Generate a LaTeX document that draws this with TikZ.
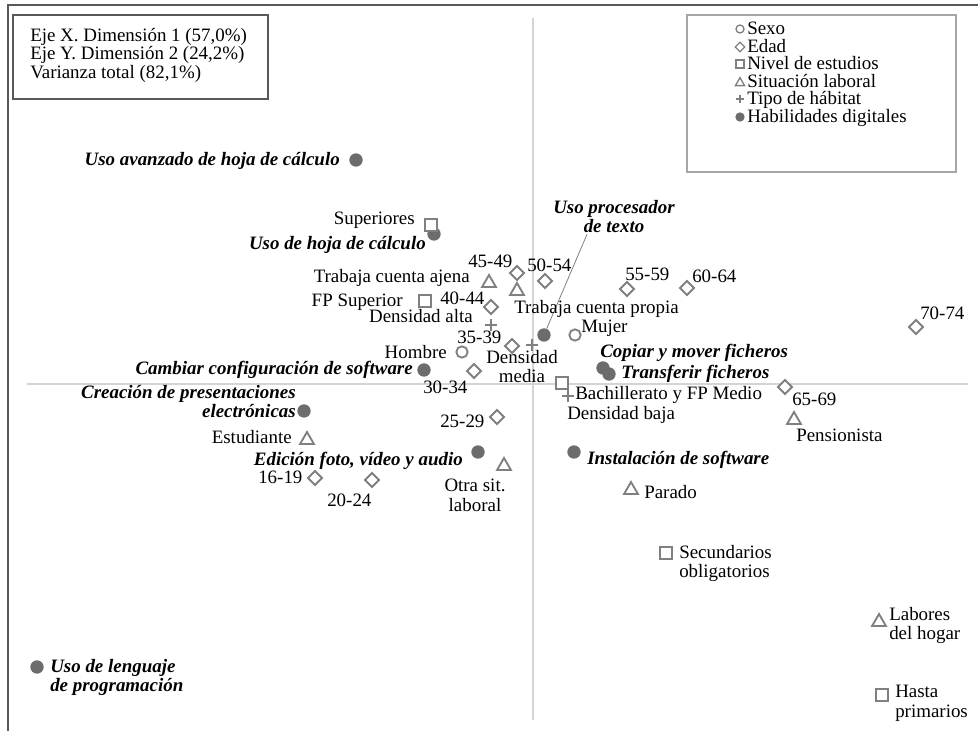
\documentclass[tikz,border=0pt]{standalone}
\usepackage{fontspec}
\setmainfont{Liberation Serif}
\usetikzlibrary{calc,positioning,shapes.geometric}
\definecolor{acmgray}{RGB}{128,128,128}
\definecolor{acmdot}{RGB}{108,108,108}
\definecolor{acmaxis}{RGB}{212,212,212}
\definecolor{acmframe}{RGB}{88,88,88}

\begin{document}
\begin{tikzpicture}[x=0.75pt, y=-0.75pt,
      lbl/.style={inner sep=0pt, font=\fontsize{14.2}{14.6}\selectfont},
      skill/.style={lbl, font=\fontsize{14.2}{14.6}\selectfont\bfseries\itshape},
      digdot/.style={circle, fill=acmdot, inner sep=0pt, minimum size=10pt},
      sexo/.style={circle, draw=acmgray, line width=1.4pt, fill=white, inner sep=0pt, minimum size=8.5pt},
      edad/.style={diamond, draw=acmgray, line width=1.4pt, fill=white, inner sep=0pt, minimum size=11pt},
      estud/.style={rectangle, draw=acmgray, line width=1.4pt, fill=white, inner sep=0pt, minimum size=8.5pt},
      sitlab/.style={regular polygon, regular polygon sides=3, draw=acmgray, line width=1.4pt, fill=white, inner sep=0pt, minimum size=12pt},
      habitat/.style={inner sep=0pt, minimum size=9pt, path picture={\draw[acmgray, line width=1.3pt] (path picture bounding box.north) -- (path picture bounding box.south) (path picture bounding box.west) -- (path picture bounding box.east);}}
    ]
      \useasboundingbox (0,0) rectangle (978,731);
      % frame and axes
      \draw[acmframe, line width=1.6pt] (8,731) -- (8,5) -- (978,5);
      \draw[acmaxis, line width=0.9pt] (27,384) -- (968,384);
      \draw[acmaxis, line width=0.9pt] (533,18) -- (533,720);

      % info box
      \node[draw=acmframe, line width=1.1pt, minimum width=191pt, minimum height=63pt, inner sep=0pt] (info) at (140.5,57) {};
      \node[lbl, anchor=north west, align=left, font=\fontsize{14.2}{13.9}\selectfont] (infotxt) at (30,28) {Eje X. Dimensión 1 (57,0\%)\\Eje Y. Dimensión 2 (24,2\%)\\Varianza total (82,1\%)};

      % legend
      \node[draw=acmgray!70, line width=1.1pt, minimum width=201.75pt, minimum height=117.75pt, inner sep=0pt] (leg) at (821.5,93.5) {};
      \node[sexo, minimum size=6pt, line width=1pt] (legsexo) at (740,29) {};
      \node[edad, minimum size=7.5pt, line width=1pt] (legedad) at (740,47) {};
      \node[estud, minimum size=6pt, line width=1pt] (legestud) at (740,64) {};
      \node[sitlab, minimum size=8pt, line width=1pt] (legsit) at (740,83) {};
      \node[habitat, minimum size=6.5pt] (leghab) at (740,99) {};
      \node[digdot, minimum size=7pt] (legdig) at (740,117) {};
      \node[lbl, anchor=base west] at (747,35) {Sexo};
      \node[lbl, anchor=base west] at (747,53) {Edad};
      \node[lbl, anchor=base west] at (747,70) {Nivel de estudios};
      \node[lbl, anchor=base west] at (747,88) {Situación laboral};
      \node[lbl, anchor=base west] at (747,105) {Tipo de hábitat};
      \node[lbl, anchor=base west] at (747,123) {Habilidades digitales};

      % habilidades digitales
      \node[digdot] (avzdot) at (356,160) {};
      \node[skill, anchor=base east] (avz) at (340,166) {Uso avanzado de hoja de cálculo};
      \node[digdot] (hojadot) at (434,234) {};
      \node[skill, anchor=base east] (hoja) at (426,249) {Uso de hoja de cálculo};
      \node[digdot] (procdot) at (544,335) {};
      \node[skill, anchor=north, align=center] (proc) at (614,200) {Uso procesador\\de texto};
      \draw[acmgray, line width=0.6pt] (procdot) -- ($(proc.south)+(-27,1)$);
      \node[digdot] (confdot) at (424,370) {};
      \node[skill, anchor=base east] (conf) at (413,374) {Cambiar configuración de software};
      \node[digdot] (presdot) at (304,411) {};
      \node[skill, anchor=north east, align=right] (pres) at (296,385) {Creación de presentaciones\\electrónicas};
      \node[digdot] (edicdot) at (478,452) {};
      \node[skill, anchor=base east] (edic) at (463,465) {Edición foto, vídeo y audio};
      \node[digdot] (copdot) at (603,368) {};
      \node[digdot] (trfdot) at (609,374) {};
      \node[skill, anchor=base west] (cop) at (600,357) {Copiar y mover ficheros};
      \node[skill, anchor=base west] (trf) at (621,378) {Transferir ficheros};
      \node[digdot] (instdot) at (574,452) {};
      \node[skill, anchor=base west] (inst) at (587,464) {Instalación de software};
      \node[digdot] (progdot) at (37,667) {};
      \node[skill, anchor=north west, align=left] (prog) at (50,659) {Uso de lenguaje\\de programación};

      % sexo
      \node[sexo] (homdot) at (462,352) {};
      \node[lbl, anchor=base east] (hom) at (447,358) {Hombre};
      \node[sexo] (mujdot) at (575,335) {};
      \node[lbl, anchor=base west] (muj) at (581,332) {Mujer};

      % edad
      \node[edad] (e1619dot) at (315,478) {};
      \node[lbl, anchor=base west] (e1619) at (258,483) {16-19};
      \node[edad] (e2024dot) at (372,480) {};
      \node[lbl, anchor=base west] (e2024) at (327,506) {20-24};
      \node[edad] (e2529dot) at (497,417) {};
      \node[lbl, anchor=base west] (e2529) at (440,427) {25-29};
      \node[edad] (e3034dot) at (474,371) {};
      \node[lbl, anchor=base west] (e3034) at (423,393) {30-34};
      \node[edad] (e3539dot) at (512,346) {};
      \node[lbl, anchor=base west] (e3539) at (457,343) {35-39};
      \node[edad] (e4044dot) at (491,307) {};
      \node[lbl, anchor=base west] (e4044) at (440,304) {40-44};
      \node[edad] (e4549dot) at (517,273) {};
      \node[lbl, anchor=base west] (e4549) at (468,267) {45-49};
      \node[edad] (e5054dot) at (545,281) {};
      \node[lbl, anchor=base west] (e5054) at (527,271) {50-54};
      \node[edad] (e5559dot) at (627,289) {};
      \node[lbl, anchor=base west] (e5559) at (625,280) {55-59};
      \node[edad] (e6064dot) at (687,288) {};
      \node[lbl, anchor=base west] (e6064) at (692,282) {60-64};
      \node[edad] (e6569dot) at (785,387) {};
      \node[lbl, anchor=base west] (e6569) at (792,405) {65-69};
      \node[edad] (e7074dot) at (916,327) {};
      \node[lbl, anchor=base west] (e7074) at (920,319) {70-74};

      % nivel de estudios
      \node[estud] (supdot) at (431,225) {};
      \node[lbl, anchor=base east] (sup) at (415,224) {Superiores};
      \node[estud] (fpsdot) at (425,301) {};
      \node[lbl, anchor=base east] (fps) at (403,306) {FP Superior};
      \node[estud] (bachdot) at (562,383) {};
      \node[lbl, anchor=base west] (bach) at (575,399) {Bachillerato y FP Medio};
      \node[estud] (secdot) at (666,553) {};
      \node[lbl, anchor=north west, align=left] (sec) at (679,545) {Secundarios\\obligatorios};
      \node[estud] (primdot) at (882,695) {};
      \node[lbl, anchor=north west, align=left] (prim) at (895,685) {Hasta\\primarios};

      % situacion laboral
      \node[sitlab] (ajenadot) at (489,283) {};
      \node[lbl, anchor=base east] (ajena) at (470,282) {Trabaja cuenta ajena};
      \node[sitlab] (propiadot) at (517,291) {};
      \node[lbl, anchor=base west] (propia) at (514,313) {Trabaja cuenta propia};
      \node[sitlab] (estudot) at (307,440) {};
      \node[lbl, anchor=base east] (estu) at (292,443) {Estudiante};
      \node[sitlab] (otradot) at (504,466) {};
      \node[lbl, anchor=north, align=center] (otra) at (475,479) {Otra sit.\\laboral};
      \node[sitlab] (pensdot) at (794,420) {};
      \node[lbl, anchor=base west] (pens) at (796,441) {Pensionista};
      \node[sitlab] (pardot) at (631,490) {};
      \node[lbl, anchor=base west] (par) at (644,498) {Parado};
      \node[sitlab] (hogdot) at (879,622) {};
      \node[lbl, anchor=north west, align=left] (hog) at (889,607) {Labores\\del hogar};

      % tipo de habitat
      \node[habitat] (altadot) at (491,325) {};
      \node[lbl, anchor=base east] (alta) at (473,322) {Densidad alta};
      \node[habitat] (mediadot) at (532,345) {};
      \node[lbl, anchor=north, align=center] (media) at (522,350) {Densidad\\media};
      \node[habitat] (bajadot) at (568,396) {};
      \node[lbl, anchor=base west] (baja) at (567,419) {Densidad baja};
    \end{tikzpicture}
\end{document}
